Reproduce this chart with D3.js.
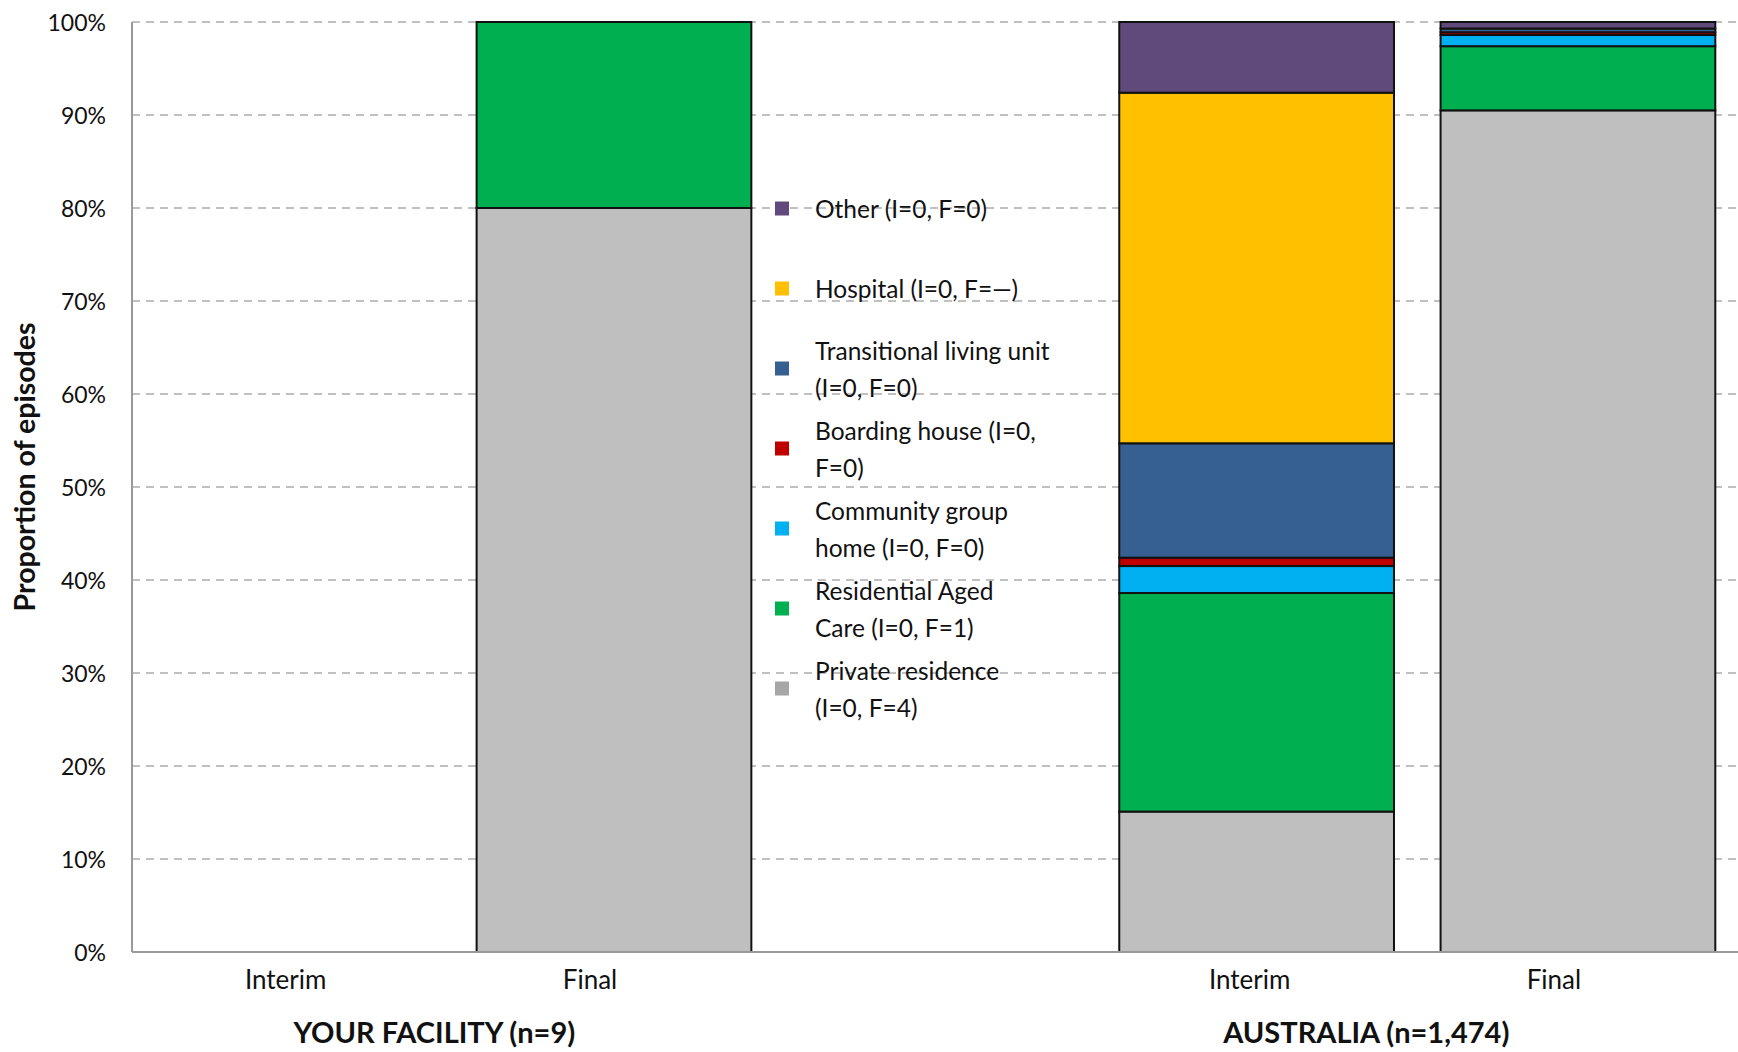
<!DOCTYPE html>
<html>
<head>
<meta charset="utf-8">
<script src="https://cdn.jsdelivr.net/npm/d3@7"></script>
<style>
  body { margin: 0; background: #fff; }
  text { font-family: Lato, "Open Sans", sans-serif; fill: #111; }
</style>
</head>
<body>
<div id="container"></div>
<script>
// series, bottom of the stack first
const series = ["Private residence", "Residential Aged Care", "Community group home",
  "Boarding house", "Transitional living unit", "Hospital", "Other"];
const seriesColors = ["#bfbfbf", "#00b050", "#00b0f0", "#c00000", "#366092", "#ffc000", "#604a7b"];

// percent of episodes, same order as series
const yourFacilityInterim = [0, 0, 0, 0, 0, 0, 0];
const yourFacilityFinal = [80, 20, 0, 0, 0, 0, 0];
const australiaInterim = [15.1, 23.5, 2.9, 0.9, 12.3, 37.7, 7.6];
const australiaFinal = [90.5, 6.9, 1.2, 0.3, 0.4, 0, 0.7];

const slots = ["yf-interim", "yf-final", "gap", "au-interim", "au-final"];
const slotLabels = ["Interim", "Final", "", "Interim", "Final"];
const groupLabels = ["YOUR FACILITY (n=9)", "AUSTRALIA (n=1,474)"];
const yTicks = [0, 10, 20, 30, 40, 50, 60, 70, 80, 90, 100];

// legend, top to bottom
const legendLines = [
  ["Other (I=0, F=0)"],
  ["Hospital (I=0, F=\u2014)"],
  ["Transitional living unit", "(I=0, F=0)"],
  ["Boarding house (I=0,", "F=0)"],
  ["Community group", "home (I=0, F=0)"],
  ["Residential Aged", "Care (I=0, F=1)"],
  ["Private residence", "(I=0, F=4)"]
];
const legendColors = ["#604a7b", "#ffc000", "#366092", "#c00000", "#00b0f0", "#00b050", "#a6a6a6"];

const W = 1738, H = 1052;
const margin = { top: 22, left: 132 };
const plotBottom = 952;

const svg = d3.select("#container").append("svg")
  .attr("width", W).attr("height", H);

const x = d3.scaleBand().domain(slots).range([margin.left, 1738.6])
  .paddingInner(0.145).paddingOuter(0.0725);
const y = d3.scaleLinear().domain([0, 100]).range([plotBottom, margin.top]);

// gridlines
svg.append("g").selectAll("line")
  .data(yTicks.filter(d => d > 0))
  .enter().append("line")
  .attr("x1", margin.left).attr("x2", W)
  .attr("y1", d => y(d)).attr("y2", d => y(d))
  .attr("stroke", "#c0c0c0").attr("stroke-width", 2)
  .attr("stroke-dasharray", "8,6");

// y tick labels
svg.append("g").selectAll("text")
  .data(yTicks).enter().append("text")
  .attr("x", 106).attr("y", d => y(d))
  .attr("text-anchor", "end").attr("dominant-baseline", "central")
  .style("font-size", "23px")
  .text(d => d + "%");

// stacked bars
const rows = [
  { slot: "yf-interim", values: yourFacilityInterim },
  { slot: "yf-final", values: yourFacilityFinal },
  { slot: "au-interim", values: australiaInterim },
  { slot: "au-final", values: australiaFinal }
].map(r => {
  const o = { slot: r.slot };
  series.forEach((s, i) => (o[s] = r.values[i]));
  return o;
});
const stacked = d3.stack().keys(series)(rows);

svg.append("g").selectAll("g")
  .data(stacked).enter().append("g")
  .attr("fill", (d, i) => seriesColors[i])
  .selectAll("rect")
  .data(d => d.filter(p => p[1] - p[0] > 0))
  .enter().append("rect")
  .attr("x", d => x(d.data.slot))
  .attr("width", x.bandwidth())
  .attr("y", d => y(d[1]))
  .attr("height", d => y(d[0]) - y(d[1]))
  .attr("stroke", "#111").attr("stroke-width", 2);

// axis lines
svg.append("line")
  .attr("x1", margin.left).attr("x2", margin.left)
  .attr("y1", margin.top).attr("y2", plotBottom)
  .attr("stroke", "#999").attr("stroke-width", 2);
svg.append("line")
  .attr("x1", margin.left).attr("x2", W)
  .attr("y1", plotBottom).attr("y2", plotBottom)
  .attr("stroke", "#999").attr("stroke-width", 2);

// category labels
const labelShift = { Interim: -7, Final: -24 };
svg.append("g").selectAll("text")
  .data(slots.filter((s, i) => slotLabels[i]))
  .enter().append("text")
  .attr("x", s => {
    const lab = slotLabels[slots.indexOf(s)];
    return x(s) + x.bandwidth() / 2 + labelShift[lab];
  })
  .attr("y", 979)
  .attr("text-anchor", "middle").attr("dominant-baseline", "central")
  .style("font-size", "26px")
  .text(s => slotLabels[slots.indexOf(s)]);

// group labels
const groupX = [
  (x("yf-interim") + x("yf-final") + x.bandwidth()) / 2 - 19,
  (x("au-interim") + x("au-final") + x.bandwidth()) / 2 - 51
];
svg.append("g").selectAll("text")
  .data(groupLabels).enter().append("text")
  .attr("x", (d, i) => groupX[i])
  .attr("y", 1031)
  .attr("text-anchor", "middle").attr("dominant-baseline", "central")
  .style("font-size", "29px").style("font-weight", "bold")
  .text(d => d);

// y axis title
svg.append("text")
  .attr("transform", "translate(24," + ((margin.top + plotBottom) / 2 - 20) + ") rotate(-90)")
  .attr("text-anchor", "middle").attr("dominant-baseline", "central")
  .style("font-size", "28.5px").style("font-weight", "bold")
  .text("Proportion of episodes");

// legend
const legend = svg.append("g").selectAll("g")
  .data(legendLines).enter().append("g")
  .attr("transform", (d, i) => `translate(775, ${208.5 + i * 80})`);
legend.append("rect")
  .attr("x", 0).attr("y", -7).attr("width", 14).attr("height", 14)
  .attr("fill", (d, i) => legendColors[i]);
legend.each(function (lines) {
  const g = d3.select(this);
  lines.forEach((line, j) => {
    g.append("text")
      .attr("x", 40)
      .attr("y", (j - (lines.length - 1) / 2) * 37)
      .attr("dominant-baseline", "central")
      .style("font-size", "24.5px")
      .text(line);
  });
});
</script>
</body>
</html>
